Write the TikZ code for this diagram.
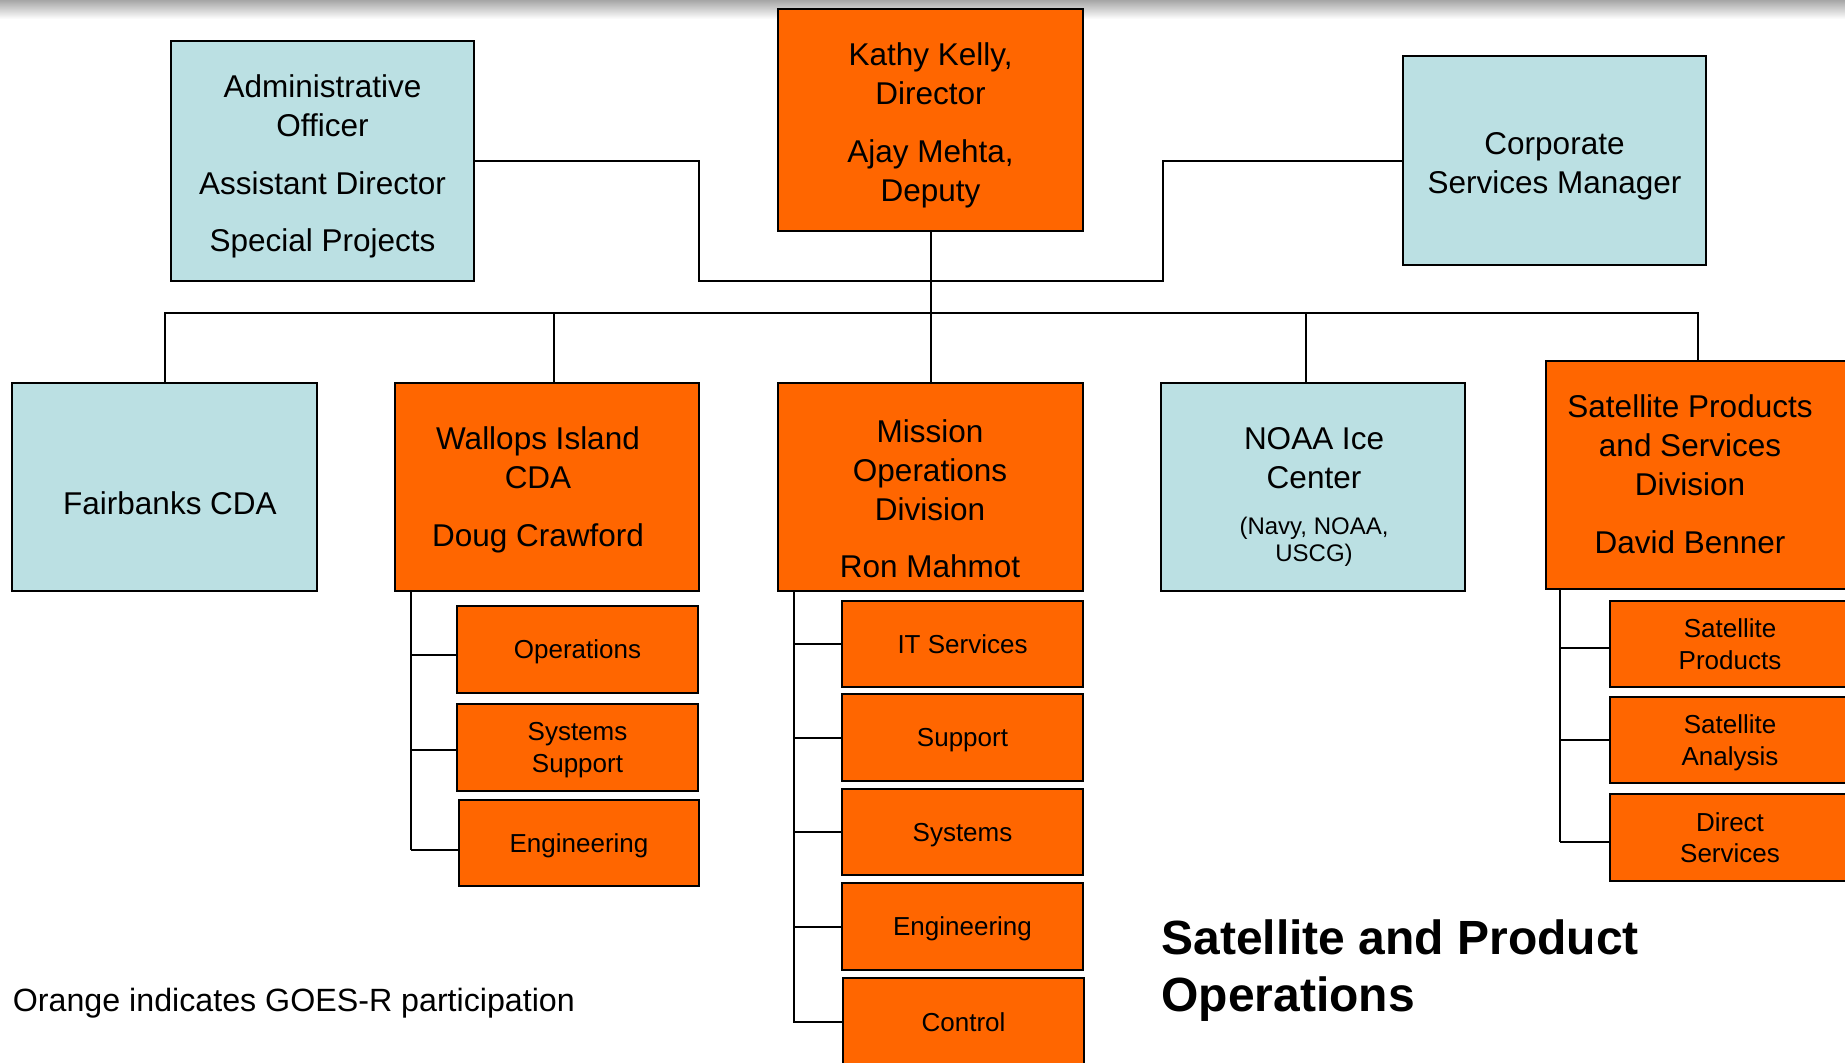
\documentclass[tikz,border=0pt]{standalone}
\usepackage{fontspec}
\setmainfont{Liberation Sans}
\definecolor{goesorange}{HTML}{FF6600}
\definecolor{staffblue}{HTML}{BBE0E3}
\newcommand\mainsz{\fontsize{15.75pt}{19.4pt}\selectfont}
\newcommand\notesz{\fontsize{16.1pt}{19.4pt}\selectfont}
\newcommand\subsz{\fontsize{13pt}{15.9pt}\selectfont}
\newcommand\smallsz{\fontsize{12pt}{13.5pt}\selectfont}
\newcommand\titlesz{\fontsize{24pt}{28.5pt}\selectfont\bfseries}
\newcommand\pgap{\\[9.45pt]}
\tikzset{
  unitbox/.style={rectangle, draw=black, line width=1.1pt, inner sep=0pt, outer sep=0pt},
  orangebox/.style={unitbox, fill=goesorange},
  bluebox/.style={unitbox, fill=staffblue},
  subbox/.style={orangebox, font=\subsz, align=center, text depth=0pt},
  txt/.style={font=\mainsz, align=center, inner sep=0pt, text depth=0pt, anchor=south},
  link/.style={line width=1pt, draw=black},
}
\begin{document}
\begin{tikzpicture}[x=0.5pt, y=-0.5pt]
\useasboundingbox (0,0) rectangle (1845,1062);
\clip (0,0) rectangle (1845,1062);
\fill[white] (0,0) rectangle (1845,1062);
\shade[top color=gray!70, bottom color=white] (0,0) rectangle (1845,19);

% ---- top level ----
\node[bluebox, minimum width=151.5pt, minimum height=120pt] (admin) at (322.5,161) {};
\node[orangebox, minimum width=152.5pt, minimum height=111pt] (dir) at (930.5,120) {};
\node[bluebox, minimum width=151.5pt, minimum height=104.5pt] (corp) at (1554.5,160.5) {};

% ---- divisions ----
\node[bluebox, minimum width=152.5pt, minimum height=104pt] (fair) at (164.5,487) {};
\node[orangebox, minimum width=152pt, minimum height=104pt] (wal) at (547,487) {};
\node[orangebox, minimum width=152.5pt, minimum height=104pt] (mis) at (930.5,487) {};
\node[bluebox, minimum width=152pt, minimum height=104pt] (noaa) at (1313,487) {};
\node[orangebox, minimum width=152pt, minimum height=114pt] (spsd) at (1698,475) {};

% ---- box texts ----
\node[txt] (admin-t) at (322.5,252.2) {Administrative\\Officer\pgap Assistant Director\pgap Special Projects};
\node[txt] (dir-t) at (930.5,201.6) {Kathy Kelly,\\Director\pgap Ajay Mehta,\\Deputy};
\node[txt] (corp-t) at (1554.5,193.4) {Corporate\\Services Manager};
\node[txt] (fair-t) at (170,514.6) {Fairbanks CDA};
\node[txt] (wal-t) at (538,546.4) {Wallops Island\\CDA\pgap Doug Crawford};
\node[txt] (mis-t) at (930,578.2) {Mission\\Operations\\Division\pgap Ron Mahmot};
\node[txt] (noaa-t) at (1314,488.7) {NOAA Ice\\Center};
\node[txt, font=\smallsz] (noaa-s) at (1314,561.6) {(Navy, NOAA,\\USCG)};
\node[txt] (spsd-t) at (1690,553.5) {Satellite Products\\and Services\\Division\pgap David Benner};

% ---- branches ----
\node[subbox, minimum width=120.5pt, minimum height=43.5pt] (ops) at (577.5,649.5) {Operations};
\node[subbox, minimum width=120.5pt, minimum height=43.5pt] (syss) at (577.5,747.5) {Systems\\Support};
\node[subbox, minimum width=120pt, minimum height=43pt] (weng) at (579,843) {Engineering};

\node[subbox, minimum width=120.5pt, minimum height=43pt] (it) at (962.5,644) {IT Services};
\node[subbox, minimum width=120.5pt, minimum height=43.5pt] (sup) at (962.5,737.5) {Support};
\node[subbox, minimum width=120.5pt, minimum height=43pt] (sys) at (962.5,832) {Systems};
\node[subbox, minimum width=120.5pt, minimum height=43.5pt] (meng) at (962.5,926.5) {Engineering};
\node[subbox, minimum width=120.5pt, minimum height=44pt] (ctl) at (963.5,1022) {Control};

\node[subbox, minimum width=120pt, minimum height=43pt] (sprod) at (1730,644) {Satellite\\Products};
\node[subbox, minimum width=120pt, minimum height=43pt] (sanal) at (1730,740) {Satellite\\Analysis};
\node[subbox, minimum width=120pt, minimum height=43.5pt] (direct) at (1730,837.5) {Direct\\Services};

% ---- staff links ----
\coordinate (staff-l) at (698.5,281);
\coordinate (staff-r) at (1163,281);
\draw[link] (admin.east) -| (staff-l) -- (staff-r) |- (corp.west);
\draw[link] (dir.south) -- (mis.north);

% ---- division bus ----
\coordinate (bus) at (0,313);
\draw[link] (fair.north) -- (fair.north |- bus) -- (spsd.north |- bus) -- (spsd.north);
\coordinate (wal-drop) at (554,313);
\coordinate (noaa-drop) at (1306,313);
\draw[link] (wal-drop) -- (wal-drop |- wal.north);
\draw[link] (noaa-drop) -- (noaa-drop |- noaa.north);

% ---- Wallops branches ----
\coordinate (w1) at (411,655);
\coordinate (w2) at (411,750);
\coordinate (w3) at (411,850);
\draw[link] (w1 |- wal.south) -- (w3);
\draw[link] (w1) -- (w1 -| ops.west);
\draw[link] (w2) -- (w2 -| syss.west);
\draw[link] (w3) -- (w3 -| weng.west);

% ---- Mission Operations branches ----
\coordinate (m0) at (794,0);
\draw[link] (m0 |- mis.south) |- (ctl.west);
\draw[link] (m0 |- it.west) -- (it.west);
\draw[link] (m0 |- sup.west) -- (sup.west);
\draw[link] (m0 |- sys.west) -- (sys.west);
\draw[link] (m0 |- meng.west) -- (meng.west);

% ---- Satellite Products branches ----
\coordinate (s1) at (1560,648);
\coordinate (s2) at (1560,740);
\coordinate (s3) at (1560,842);
\draw[link] (s1 |- spsd.south) -- (s3);
\draw[link] (s1) -- (s1 -| sprod.west);
\draw[link] (s2) -- (s2 -| sanal.west);
\draw[link] (s3) -- (s3 -| direct.west);

% ---- notes ----
\node[font=\notesz, anchor=base west, inner sep=0pt] (note) at (12.5,1011) {Orange indicates GOES-R participation};
\node[font=\titlesz, align=left, anchor=south west, inner sep=0pt, text depth=0pt] (title) at (1161,1012) {Satellite and Product\\Operations};
\end{tikzpicture}
\end{document}
